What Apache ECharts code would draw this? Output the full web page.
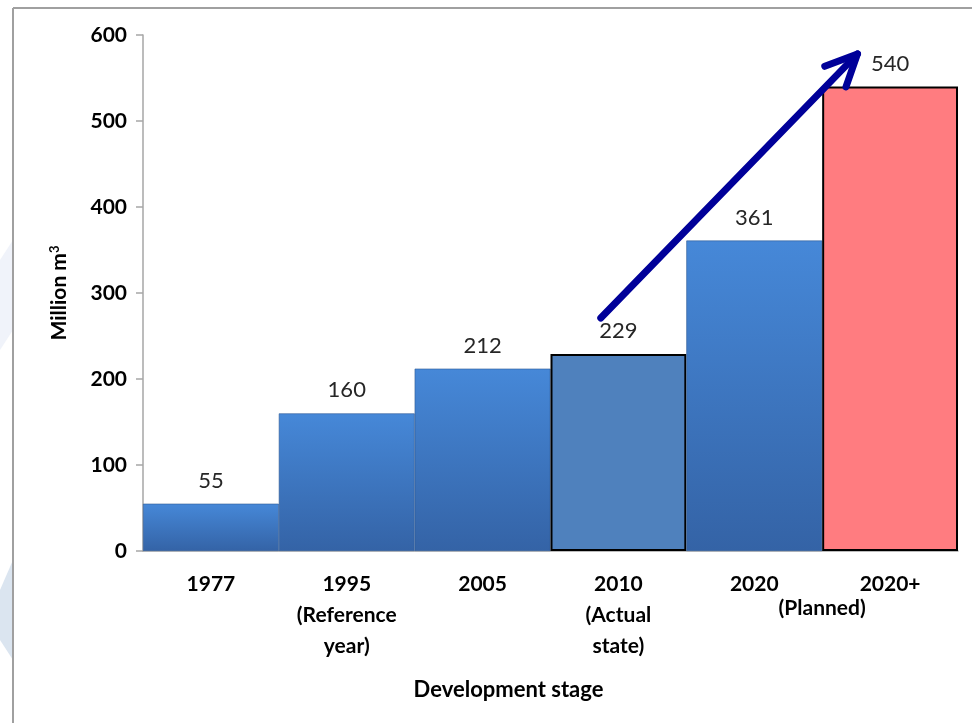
<!DOCTYPE html>
<html>
<head>
<meta charset="utf-8">
<script src="https://cdn.jsdelivr.net/npm/echarts@6/dist/echarts.min.js"></script>
<style>
html,body{margin:0;padding:0;background:#fff;}
#c{width:972px;height:723px;}
</style>
</head>
<body>
<div id="c"></div>
<script>
var categories = ['1977', '1995', '2005', '2010', '2020', '2020+'];
var subLabels = ['', '(Reference\nyear)', '', '(Actual\nstate)', '', ''];
var values = [55, 160, 212, 229, 361, 540];
var yTicks = { min: 0, max: 600, interval: 100 };
var planNote = '(Planned)';
// arrow annotation, in data units: [category position, value]
var arrowStart = [2.87, 271];
var arrowEnd = [4.76, 578];

var FONT = 'Lato, "Open Sans", sans-serif';
var blueGrad = new echarts.graphic.LinearGradient(0, 0, 0, 1, [
  { offset: 0, color: '#4688d8' },
  { offset: 1, color: '#3463a6' }
]);
var styles = [
  { color: blueGrad, borderColor: '#2f5a96', borderWidth: 0.6 },
  { color: blueGrad, borderColor: '#2f5a96', borderWidth: 0.6 },
  { color: blueGrad, borderColor: '#2f5a96', borderWidth: 0.6 },
  { color: '#4f81bd', borderColor: '#000', borderWidth: 2 },
  { color: blueGrad, borderColor: '#2f5a96', borderWidth: 0.6 },
  { color: '#ff7c80', borderColor: '#000', borderWidth: 2 }
];

var chart = echarts.init(document.getElementById('c'));
chart.setOption({
  animation: false,
  backgroundColor: '#fff',
  grid: { left: 143, right: 14, top: 35, bottom: 172 },
  xAxis: {
    type: 'category',
    data: categories,
    name: 'Development stage',
    nameLocation: 'middle',
    nameGap: 128,
    nameTextStyle: { fontFamily: FONT, fontWeight: 'bold', fontSize: 22, color: '#000', padding: [0, 84, 0, 0] },
    axisLine: { lineStyle: { color: '#a6a6a6', width: 1.5 } },
    axisTick: { show: false },
    axisLabel: {
      interval: 0,
      margin: 18,
      fontFamily: FONT, fontWeight: 'bold', fontSize: 21, color: '#000', lineHeight: 31,
      formatter: function (v, i) { return subLabels[i] ? v + '\n' + subLabels[i] : v; }
    }
  },
  yAxis: {
    type: 'value',
    min: yTicks.min, max: yTicks.max, interval: yTicks.interval,
    name: '{a|Million m}{s|3}',
    nameLocation: 'middle',
    nameGap: 72,
    nameTextStyle: {
      rich: {
        a: { fontFamily: FONT, fontWeight: 'bold', fontSize: 21, color: '#000' },
        s: { fontFamily: FONT, fontWeight: 'bold', fontSize: 13, color: '#000', verticalAlign: 'top', padding: [0, 0, 10, 0] }
      }
    },
    splitLine: { show: false },
    axisLine: { show: true, lineStyle: { color: '#a6a6a6', width: 1.5 } },
    axisTick: { show: true, length: 7, lineStyle: { color: '#a6a6a6', width: 1.5 } },
    axisLabel: { margin: 16, fontFamily: FONT, fontWeight: 'bold', fontSize: 21, color: '#000' }
  },
  series: [{
    type: 'bar',
    barCategoryGap: '0%',
    data: values.map(function (v, i) { return { value: v, itemStyle: styles[i] }; }),
    label: {
      show: true, position: 'top', distance: 12,
      fontFamily: FONT, fontSize: 22, color: '#262626'
    }
  }]
});

function drawExtras() {
  var p0 = chart.convertToPixel({ gridIndex: 0 }, [3, 0]);
  var p1 = chart.convertToPixel({ gridIndex: 0 }, [4, 0]);
  var p4 = chart.convertToPixel({ gridIndex: 0 }, [4, 0]);
  var p5 = chart.convertToPixel({ gridIndex: 0 }, [5, 0]);
  var band = p1[0] - p0[0];
  function px(pt) {
    var base = chart.convertToPixel({ gridIndex: 0 }, [Math.floor(pt[0]), pt[1]]);
    return [base[0] + (pt[0] - Math.floor(pt[0])) * band, base[1]];
  }
  var s = px(arrowStart), e = px(arrowEnd);
  var ang = Math.atan2(s[1] - e[1], s[0] - e[0]);
  var L = 35, da = 25 * Math.PI / 180;
  var a1 = [e[0] + L * Math.cos(ang - da), e[1] + L * Math.sin(ang - da)];
  var a2 = [e[0] + L * Math.cos(ang + da), e[1] + L * Math.sin(ang + da)];
  var bottom = chart.convertToPixel({ gridIndex: 0 }, [0, 0])[1];
  var midX = (p4[0] + p5[0]) / 2;
  var lineStyle = { stroke: '#000099', lineWidth: 7, lineCap: 'round', lineJoin: 'round', fill: null };
  chart.setOption({
    graphic: [
      { type: 'polygon', silent: true, z: -10, shape: { points: [[0, 590], [13, 560], [13, 660], [0, 640]] }, style: { fill: '#dbe5f0' } },
      { type: 'polygon', silent: true, z: -10, shape: { points: [[0, 260], [13, 240], [13, 330], [0, 350]] }, style: { fill: '#f0f3fa' } },
      { type: 'line', silent: true, shape: { x1: 13, y1: 8, x2: 972, y2: 8 }, style: { stroke: '#a0a0a0', lineWidth: 2 } },
      { type: 'line', silent: true, shape: { x1: 13, y1: 8, x2: 13, y2: 723 }, style: { stroke: '#a0a0a0', lineWidth: 2 } },
      { type: 'polyline', silent: true, z: 100, shape: { points: [s, e] }, style: lineStyle },
      { type: 'polyline', silent: true, z: 100, shape: { points: [a1, e, a2] }, style: lineStyle },
      { type: 'text', silent: true, z: 100, x: midX, y: bottom + 57,
        style: { text: planNote, fontFamily: FONT, fontWeight: 'bold', fontSize: 21, fill: '#000', align: 'center', verticalAlign: 'middle' } }
    ]
  });
}
drawExtras();
</script>
</body>
</html>
